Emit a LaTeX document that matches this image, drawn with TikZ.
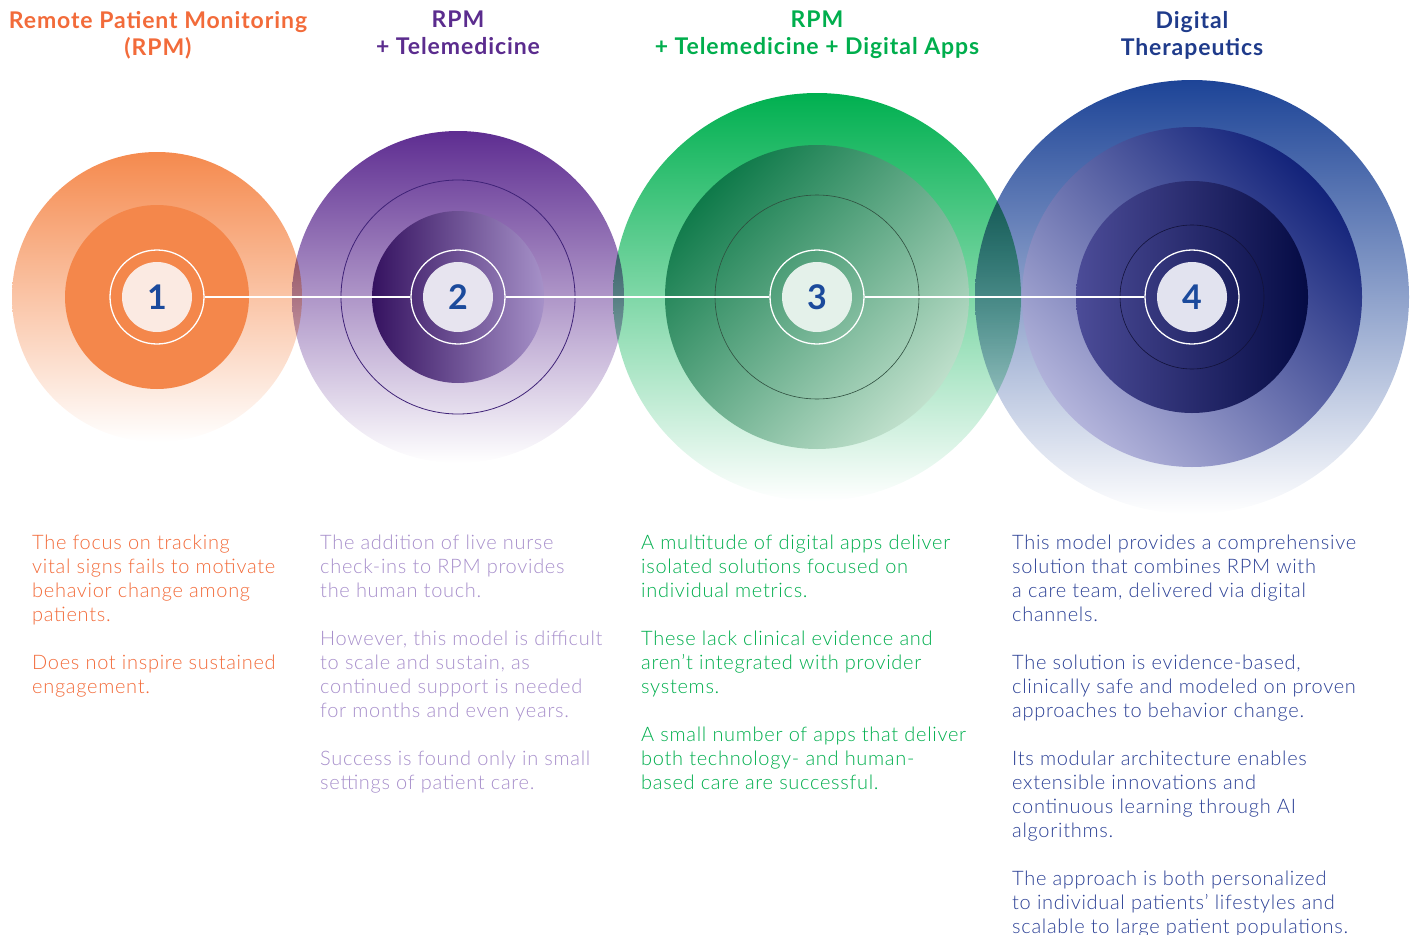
\documentclass[tikz,border=0pt]{standalone}
\usepackage{fontspec}
\setmainfont{Lato}
\newfontfamily\lightfont{Lato}[UprightFont=* Light,LetterSpace=3.5]
\newfontfamily\headfont{Lato}[LetterSpace=4]
\usetikzlibrary{positioning}
\definecolor{rpmorange}{HTML}{F26B3A}
\definecolor{telepurple}{HTML}{5B2C8E}
\definecolor{telelight}{HTML}{A78FCB}
\definecolor{appgreen}{HTML}{00AE4D}
\definecolor{dtxblue}{HTML}{1F3B8B}
\definecolor{dtxtext}{HTML}{2C4196}
\definecolor{numblue}{HTML}{1B4A9C}
\definecolor{orangetop}{HTML}{F58A4E}
\definecolor{orangemid}{HTML}{F8AC80}
\definecolor{orangedisk}{HTML}{F4874B}
\definecolor{orangecore}{HTML}{FBEAE2}
\definecolor{purpletop}{HTML}{5E2D91}
\definecolor{purplemid}{HTML}{9580BD}
\definecolor{purplering}{HTML}{3F2277}
\definecolor{purpledark}{HTML}{351260}
\definecolor{purplepale}{HTML}{A691C8}
\definecolor{purplecore}{HTML}{E7E4EF}
\definecolor{greentop}{HTML}{00B050}
\definecolor{greenmid}{HTML}{82CC98}
\definecolor{greendark}{HTML}{0F7A4A}
\definecolor{greenpale}{HTML}{C0E0CC}
\definecolor{greenring}{HTML}{2F4F3F}
\definecolor{greencore}{HTML}{E4F1EA}
\definecolor{bluetop}{HTML}{1D4497}
\definecolor{bluemid}{HTML}{6F79B9}
\definecolor{bluedark}{HTML}{13237A}
\definecolor{bluepale}{HTML}{B3B4DB}
\definecolor{blueinner}{HTML}{4C4C98}
\definecolor{bluenavy}{HTML}{050B44}
\definecolor{bluering}{HTML}{12123A}
\definecolor{bluecore}{HTML}{E2E3EF}
\begin{document}
\begin{tikzpicture}[x=1pt,y=-1pt,
  ring/.style={circle,draw=white,line width=1.3pt,minimum size=94pt,inner sep=0pt},
  numdisk/.style={circle,fill=#1,minimum size=70pt,inner sep=0pt,text=numblue,
    font=\fontsize{34}{34}\selectfont\bfseries},
  title/.style={font=\headfont\fontsize{23}{27}\selectfont\bfseries,align=center,anchor=north,inner sep=0pt},
  blurb/.style={font=\lightfont\fontsize{20}{24}\selectfont,align=left,anchor=north west,inner sep=0pt},
  link/.style={draw=white,line width=1.3pt}]
\useasboundingbox (0,0) rectangle (1418,934);

\begin{scope}[blend mode=multiply]
\shade[top color=orangetop,middle color=orangemid,bottom color=white] (157,297) circle (145pt);
\shade[top color=purpletop,middle color=purplemid,bottom color=white] (458,297) circle (166pt);
\shade[top color=greentop,middle color=greenmid,bottom color=white] (817,297) circle (204pt);
\shade[top color=bluetop,middle color=bluemid,bottom color=white] (1192,297) circle (217pt);
\end{scope}

\fill[orangedisk] (157,297) circle (92pt);
\draw[purplering,line width=0.8pt] (458,297) circle (117pt);
\shade[left color=purpledark,right color=purplepale] (458,297) circle (86pt);
\shade[top color=greendark,bottom color=greenpale,shading angle=45] (817,297) circle (152pt);
\draw[greenring,line width=0.6pt] (817,297) circle (102pt);
\shade[top color=bluedark,bottom color=bluepale,shading angle=-45] (1192,297) circle (170pt);
\shade[left color=blueinner,right color=bluenavy] (1192,297) circle (116pt);
\draw[bluering,line width=0.6pt] (1192,297) circle (72pt);

\node[ring] (r1) at (157,297) {};
\node[ring] (r2) at (458,297) {};
\node[ring] (r3) at (817,297) {};
\node[ring] (r4) at (1192,297) {};
\node[numdisk=orangecore] (n1) at (r1) {1};
\node[numdisk=purplecore] (n2) at (r2) {2};
\node[numdisk=greencore] (n3) at (r3) {3};
\node[numdisk=bluecore] (n4) at (r4) {4};
\path[link] (r1) -- (r2) (r2) -- (r3) (r3) -- (r4);

\node[title,text=rpmorange] (t1) at (158,11) {Remote Patient Monitoring\\(RPM)};
\node[title,text=telepurple] (t2) at (458,11) {RPM\\+ Telemedicine};
\node[title,text=appgreen] (t3) at (817,11) {RPM\\+ Telemedicine + Digital Apps};
\node[title,text=dtxblue] (t4) at (1192,11) {Digital\\Therapeutics};

\node[blurb,text=rpmorange] (b1) at (32,535) {The focus on tracking\\vital signs fails to motivate\\behavior change among\\patients.\\[24pt]
  Does not inspire sustained\\engagement.};
\node[blurb,text=telelight] (b2) at (320,535) {The addition of live nurse\\check-ins to RPM provides\\the human touch.\\[24pt]
  However, this model is difficult\\to scale and sustain, as\\continued support is needed\\for months and even years.\\[24pt]
  Success is found only in small\\settings of patient care.};
\node[blurb,text=appgreen] (b3) at (641,535) {A multitude of digital apps deliver\\isolated solutions focused on\\individual metrics.\\[24pt]
  These lack clinical evidence and\\aren’t integrated with provider\\systems.\\[24pt]
  A small number of apps that deliver\\both technology- and human-\\based care are successful.};
\node[blurb,text=dtxtext] (b4) at (1012,535) {This model provides a comprehensive\\solution that combines RPM with\\a care team, delivered via digital\\channels.\\[24pt]
  The solution is evidence-based,\\clinically safe and modeled on proven\\approaches to behavior change.\\[24pt]
  Its modular architecture enables\\extensible innovations and\\continuous learning through AI\\algorithms.\\[24pt]
  The approach is both personalized\\to individual patients’ lifestyles and\\scalable to large patient populations.};
\end{tikzpicture}
\end{document}
